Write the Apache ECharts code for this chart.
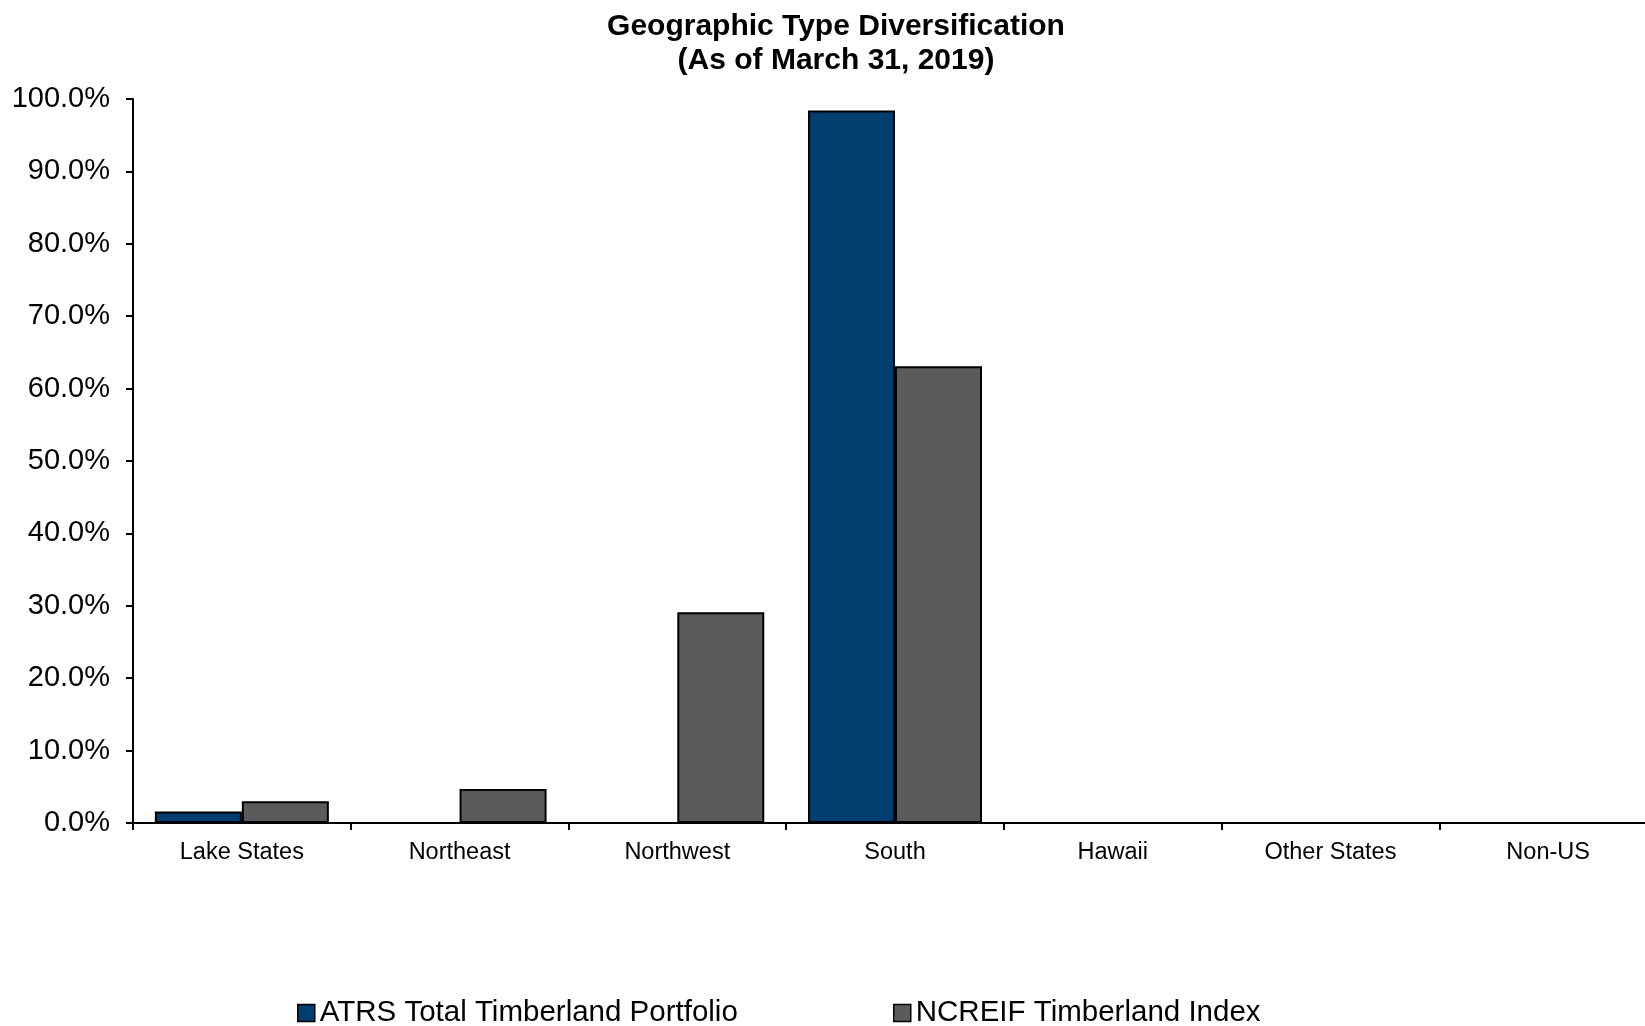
<!DOCTYPE html>
<html>
<head>
<meta charset="utf-8">
<script src="https://cdn.jsdelivr.net/npm/echarts@6/dist/echarts.min.js"></script>
<style>
html,body{margin:0;padding:0;background:#fff;overflow:hidden;}
#chart{width:1680px;height:1026px;}
</style>
</head>
<body>
<div id="chart"></div>
<script>
const titleText = 'Geographic Type Diversification\n(As of March 31, 2019)';
const categories = ['Lake States', 'Northeast', 'Northwest', 'South', 'Hawaii', 'Other States', 'Non-US'];
const seriesNames = ['ATRS Total Timberland Portfolio', 'NCREIF Timberland Index'];
const atrsValues = [1.6, 0, 0, 98.4, 0, 0, 0];
const ncreifValues = [3.0, 4.7, 29.1, 63.1, 0, 0, 0];
const yMin = 0, yMax = 100, yInterval = 10;

const font = 'Liberation Sans, Arial, sans-serif';
const legendText = {fontFamily: font, fontSize: 29.5, lineHeight: 30, color: '#000'};
const legendBase = {
  top: 998, padding: 0, itemWidth: 17, itemHeight: 17, icon: 'rect',
  textStyle: legendText,
  itemStyle: {borderColor: '#000', borderWidth: 1.5}
};
const chart = echarts.init(document.getElementById('chart'), null, {renderer: 'canvas'});
chart.setOption({
  animation: false,
  backgroundColor: '#ffffff',
  title: {
    text: titleText,
    left: 836,
    textAlign: 'center',
    top: 10,
    padding: 0,
    textStyle: {fontFamily: font, fontWeight: 'bold', fontSize: 30, lineHeight: 34, color: '#000'}
  },
  legend: [
    Object.assign({}, legendBase, {left: 297, data: [seriesNames[0]]}),
    Object.assign({}, legendBase, {left: 893, data: [seriesNames[1]]})
  ],
  grid: {left: 133, top: 99, width: 1524, bottom: 203, containLabel: false},
  xAxis: {
    type: 'category',
    data: categories,
    axisLine: {lineStyle: {color: '#000', width: 2}},
    axisTick: {show: true, length: 7, lineStyle: {color: '#000', width: 2}},
    axisLabel: {fontFamily: font, fontSize: 23.5, color: '#000', margin: 18}
  },
  yAxis: {
    type: 'value',
    min: yMin, max: yMax, interval: yInterval,
    axisLine: {show: true, lineStyle: {color: '#000', width: 2}},
    axisTick: {show: true, length: 7, lineStyle: {color: '#000', width: 2}},
    splitLine: {show: false},
    axisLabel: {fontFamily: font, fontSize: 29, color: '#000', margin: 23,
      formatter: v => v.toFixed(1) + '%'}
  },
  series: [
    {name: seriesNames[0], type: 'bar', data: atrsValues, barWidth: 87, barGap: '0%',
     itemStyle: {color: '#003E6F', borderColor: '#000', borderWidth: 2}},
    {name: seriesNames[1], type: 'bar', data: ncreifValues, barWidth: 87, barGap: '0%',
     itemStyle: {color: '#5A5B5D', borderColor: '#000', borderWidth: 2}}
  ]
});
</script>
</body>
</html>
